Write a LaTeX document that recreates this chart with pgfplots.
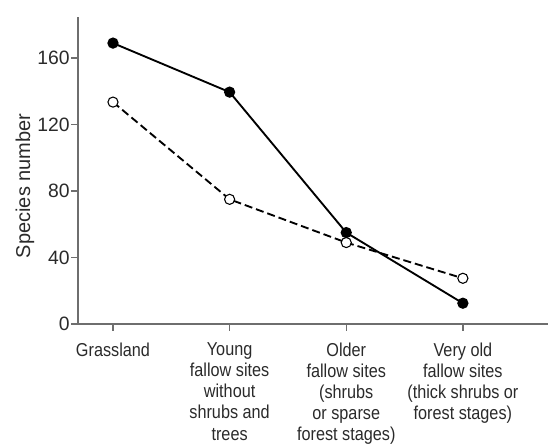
\documentclass[border=0pt]{standalone}
\usepackage{pgfplots}
\pgfplotsset{compat=1.18}
\usepackage{fontspec}
\setmainfont{Liberation Sans}
\newfontfamily\condfont{Liberation Sans}[FakeStretch=0.87]
\definecolor{axgray}{HTML}{6E6E6E}
\definecolor{txt}{HTML}{2A2A2A}
\begin{document}
\begin{tikzpicture}
\useasboundingbox (-58.5pt,-93pt) rectangle (358.5pt,243pt);
\begin{axis}[at={(0,0)}, anchor=south west, scale only axis,
  width=352.5pt, height=230.25pt,
  xmin=-0.3, xmax=3.73, ymin=0, ymax=184.7,
  axis lines=left,
  axis line style={axgray, line width=1.1pt, -},
  xtick={0,1,2,3},
  xticklabels={Grassland,{Young\\fallow sites\\without\\shrubs and\\trees},{Older\\fallow sites\\(shrubs\\or sparse\\forest stages)},{Very old\\fallow sites\\(thick shrubs or\\forest stages)}},
  ytick={0,40,80,120,160},
  tick style={axgray, line width=1pt},
  major tick length=5pt,
  tick align=outside,
  xticklabel style={font=\condfont\fontsize{14}{15.8}\selectfont, align=center, text=txt, inner sep=1pt, yshift=-8pt},
  yticklabel style={font=\fontsize{14.5}{17}\selectfont, text=txt, inner sep=1pt},
  /pgf/number format/assume math mode=true,
  ylabel={Species number},
  ylabel style={font=\fontsize{15}{18}\selectfont, text=txt, at={(axis description cs:-0.113,0.45)}, anchor=center},
  clip=false,
]
\addplot[black, line width=1.4pt, mark=*, mark size=3.5pt, mark options={fill=black}]
  coordinates {(0,169) (1,139.5) (2,55) (3,12.5)};
\addplot[black, line width=1.4pt, dash pattern=on 6pt off 3pt, mark=*, mark size=3.8pt, mark options={solid, fill=white, draw=black, line width=0.8pt}]
  coordinates {(0,133.5) (1,75) (2,49) (3,27.5)};
\end{axis}
\end{tikzpicture}
\end{document}
